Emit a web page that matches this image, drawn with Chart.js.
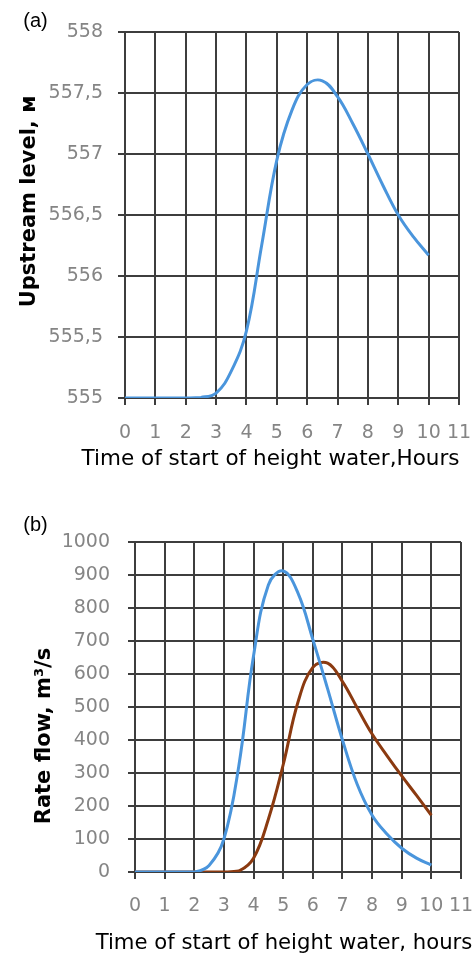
<!DOCTYPE html>
<html>
<head>
<meta charset="utf-8">
<script src="https://cdn.jsdelivr.net/npm/chart.js@4.4.0/dist/chart.umd.min.js"></script>
<style>
  html, body { margin: 0; padding: 0; background: #ffffff; }
  body { width: 474px; height: 959px; position: relative; overflow: hidden; }
  canvas { position: absolute; left: 0; }
  #levelChart { top: 0; }
  #flowChart { top: 480px; }
</style>
</head>
<body>
<canvas id="levelChart" width="474" height="480"></canvas>
<canvas id="flowChart" width="474" height="479"></canvas>
<script>
// Time since the start of high water, hours
const hours = [0, 0.5, 1, 1.5, 2, 2.5, 3, 3.5, 4, 4.5, 5, 5.5, 6, 6.5, 7, 7.5, 8, 8.5, 9, 9.5, 10];

// (a) upstream water level, m
const upstreamLevel = [555, 555, 555, 555, 555, 555.005, 555.04, 555.22, 555.55, 556.25, 556.95,
                       557.36, 557.57, 557.6, 557.47, 557.25, 557.0, 556.74, 556.5, 556.32, 556.17];

// (b) discharge, m3/s
const inflowRate  = [0, 0, 0, 0, 0, 20, 100, 320, 655, 870, 912, 845, 705, 555, 400, 265, 172, 115, 72, 42, 21];
const outflowRate = [0, 0, 0, 0, 0, 0, 0, 3, 42, 160, 325, 515, 620, 633, 577, 497, 418, 353, 291, 232, 172];

// Axis tick values
const hourTicks  = [0, 1, 2, 3, 4, 5, 6, 7, 8, 9, 10, 11];
const levelTicks = [555, 555.5, 556, 556.5, 557, 557.5, 558];
const flowTicks  = [0, 100, 200, 300, 400, 500, 600, 700, 800, 900, 1000];

const GRID = '#3d3d3d';
const TICK_TEXT = '#858585';
const tickFont = { family: 'DejaVu Sans', size: 19 };

// Draws free-standing captions (panel letters, axis titles) on the canvas
const captionPlugin = {
  id: 'captions',
  afterDraw(chart, args, opts) {
    const ctx = chart.ctx;
    for (const c of opts.items || []) {
      ctx.save();
      ctx.font = c.font;
      ctx.fillStyle = c.color || '#000';
      ctx.textAlign = 'center';
      ctx.textBaseline = 'middle';
      ctx.translate(c.x, c.y);
      if (c.rotate) ctx.rotate(c.rotate);
      ctx.fillText(c.text, 0, 0);
      ctx.restore();
    }
  }
};

function pointsOf(ys) {
  return hours.map((h, i) => ({ x: h, y: ys[i] }));
}

function lineSet(ys, color) {
  return {
    data: pointsOf(ys),
    borderColor: color,
    borderWidth: 3,
    pointRadius: 0,
    fill: false,
    tension: 0.4
  };
}

function buildChart(id, p) {
  return new Chart(document.getElementById(id), {
    type: 'line',
    data: { datasets: p.datasets },
    plugins: [captionPlugin],
    options: {
      responsive: false,
      devicePixelRatio: 1,
      animation: false,
      events: [],
      layout: { padding: p.padding },
      plugins: {
        legend: { display: false },
        tooltip: { enabled: false },
        captions: { items: p.captions }
      },
      scales: {
        x: {
          type: 'linear',
          min: 0,
          max: 11,
          afterBuildTicks: s => { s.ticks = hourTicks.map(v => ({ value: v })); },
          afterFit: s => { s.height = p.xHeight; s.paddingLeft = 0; s.paddingRight = 0; },
          ticks: { font: tickFont, color: TICK_TEXT, padding: p.xPad, maxRotation: 0, autoSkip: false },
          grid: { color: GRID, lineWidth: 2, tickLength: 7, tickColor: GRID },
          border: { color: GRID, width: 2 }
        },
        y: {
          type: 'linear',
          min: p.yTicks[0],
          max: p.yTicks[p.yTicks.length - 1],
          afterBuildTicks: s => { s.ticks = p.yTicks.map(v => ({ value: v })); },
          afterFit: s => { s.width = p.yWidth; s.paddingTop = 0; s.paddingBottom = 0; },
          ticks: {
            font: tickFont,
            color: TICK_TEXT,
            padding: p.yPad,
            autoSkip: false,
            callback: v => String(v).replace('.', ',')
          },
          grid: { color: GRID, lineWidth: 2, tickLength: 7, tickColor: GRID },
          border: { color: GRID, width: 2 }
        }
      }
    }
  });
}

buildChart('levelChart', {
  datasets: [lineSet(upstreamLevel, '#4a95dc')],
  yTicks: levelTicks,
  padding: { top: 32, right: 15, left: 0, bottom: 0 },
  xHeight: 82,
  yWidth: 125,
  xPad: 17,
  yPad: 15,
  captions: [
    { text: '(a)', x: 35.5, y: 21, font: '20px "Liberation Sans"' },
    { text: 'Upstream level, м', x: 29.5, y: 201.5, rotate: -Math.PI / 2, font: 'bold 21px "DejaVu Sans"' },
    { text: 'Time of start of height water,Hours', x: 270.5, y: 459, font: '21.5px "DejaVu Sans"' }
  ]
});

buildChart('flowChart', {
  datasets: [lineSet(inflowRate, '#4a95dc'), lineSet(outflowRate, '#8b3a10')],
  yTicks: flowTicks,
  padding: { top: 62, right: 13, left: 0, bottom: 0 },
  xHeight: 87,
  yWidth: 135,
  xPad: 16,
  yPad: 18,
  captions: [
    { text: '(b)', x: 35.5, y: 45, font: '20px "Liberation Sans"' },
    { text: 'Rate flow, m³/s', x: 44.5, y: 256, rotate: -Math.PI / 2, font: 'bold 21px "DejaVu Sans"' },
    { text: 'Time of start of height water, hours', x: 284, y: 463, font: '21.2px "DejaVu Sans"' }
  ]
});
</script>
</body>
</html>
